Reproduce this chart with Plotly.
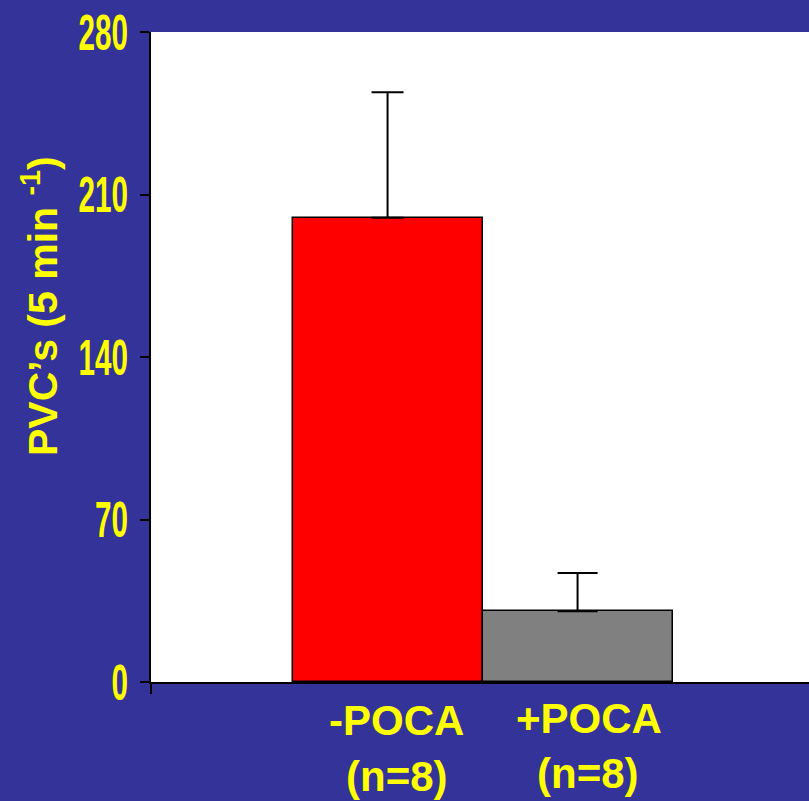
import plotly.graph_objects as go

categories = ["-POCA", "+POCA"]
label_lines = ["(n=8)", "(n=8)"]
means = [200, 30.5]
sem = [54, 16.5]
bar_colors = ["#FF0000", "#808080"]
cap_widths = [16, 20]
y_ticks = [0, 70, 140, 210, 280]

BG = "#333399"
YEL = "#FFFF00"
fig = go.Figure()
for i, c in enumerate(categories):
    fig.add_trace(go.Bar(
        x=[i], y=[means[i]], width=1,
        marker=dict(color=bar_colors[i], line=dict(color="black", width=1.5)),
        error_y=dict(type="data", array=[sem[i]], arrayminus=[0], symmetric=False,
                     color="black", thickness=2, width=cap_widths[i]),
        showlegend=False, name=c,
    ))

fig.update_layout(
    width=809, height=801,
    paper_bgcolor=BG, plot_bgcolor="white",
    margin=dict(l=151, r=0, t=32, b=119),
    bargap=0,
    xaxis=dict(range=[-1.245, 2.218], showticklabels=False, showgrid=False,
               zeroline=False, showline=True, linecolor="black", linewidth=2,
               ticks=""),
    yaxis=dict(range=[0, 280], tickvals=y_ticks, showgrid=False, zeroline=False,
               showline=True, linecolor="black", linewidth=2,
               ticks="outside", ticklen=9, tickwidth=2, tickcolor="black",
               ticklabelstandoff=2,
               tickfont=dict(family="Liberation Sans, Arial, sans-serif",
                             size=50, color=YEL, weight="bold")),
)

# small tick below the left end of the x-axis
fig.add_shape(type="line", xref="paper", yref="paper", x0=0, x1=0, y0=0, y1=-12/650,
              line=dict(color="black", width=2))

lab_font = dict(family="Liberation Sans, Arial, sans-serif", size=42, color=YEL, weight="bold")
line1_shift = [(9, -13), (11, -11)]
line2_shift = [(9, -69), (10, -66)]
for i, c in enumerate(categories):
    fig.add_annotation(x=i, y=0, xref="x", yref="paper", yanchor="top", xanchor="center",
                       text=c, showarrow=False,
                       xshift=line1_shift[i][0], yshift=line1_shift[i][1], font=lab_font)
    fig.add_annotation(x=i, y=0, xref="x", yref="paper", yanchor="top", xanchor="center",
                       text=label_lines[i], showarrow=False,
                       xshift=line2_shift[i][0], yshift=line2_shift[i][1], font=lab_font)

fig.add_annotation(xref="paper", yref="paper", x=0, y=(682 - 306) / 650, xshift=-111,
                   xanchor="center", yanchor="middle", textangle=-90, showarrow=False,
                   text="PVC\u2019s (5 min <sup>-1</sup>)",
                   font=dict(family="Liberation Sans, Arial, sans-serif", size=41, color=YEL, weight="bold"))

post = """
document.body.style.margin='0';document.body.style.padding='0';
var gd=document.getElementById('{plot_id}');
function sq(){
  gd.querySelectorAll('.ytick text').forEach(function(t){
    t.setAttribute('textLength', 16.5*t.textContent.length);
    t.setAttribute('lengthAdjust','spacingAndGlyphs');
  });
}
sq();
if (gd.on) gd.on('plotly_afterplot', sq);
setTimeout(sq, 50);
"""
fig.write_html("out.html", config={"displayModeBar": False}, post_script=post)
